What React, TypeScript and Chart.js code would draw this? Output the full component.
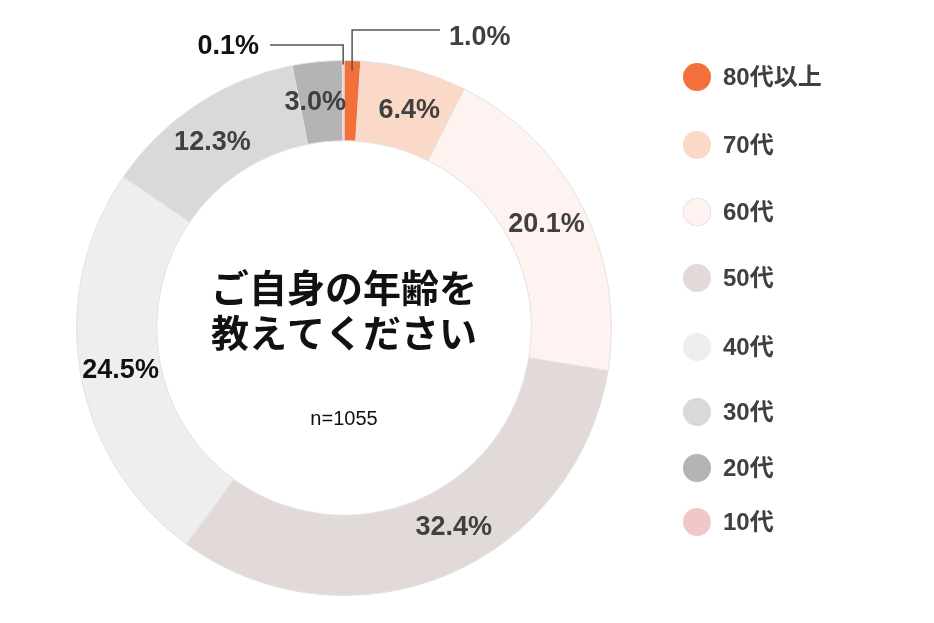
import React, { useEffect, useRef } from "react";
import { Chart, registerables } from "chart.js";

Chart.register(...registerables);

const categories = ["80代以上", "70代", "60代", "50代", "40代", "30代", "20代", "10代"];
const values = [1.0, 6.4, 20.1, 32.4, 24.5, 12.3, 3.0, 0.1];
const percentLabels = ["1.0%", "6.4%", "20.1%", "32.4%", "24.5%", "12.3%", "3.0%", "0.1%"];
const centerTitle = ["ご自身の年齢を", "教えてください"];
const sampleNote = "n=1055";

const sliceColors = ["#F4703A", "#FAD9C8", "#FEF3F1", "#E2DAD8", "#EEEEEE", "#D9D9D9", "#B4B4B4", "#F2C7C8"];
const labelColors = ["#404040", "#404040", "#404040", "#404040", "#111111", "#404040", "#404040", "#111111"];
const labelNudgeDeg = [0, 1.5, 0, -6.5, -1, -2, -1.5, 0];
const legendRowsY = [77, 145, 212, 278, 347, 412, 468, 522];

const FONT = '"Liberation Sans", Arial, "Noto Sans CJK JP", sans-serif';
const CJK = '"Noto Sans CJK JP", "Liberation Sans", sans-serif';

const overlayPlugin = {
  id: "overlay",
  afterDraw(chart: any) {
    const ctx = chart.ctx as CanvasRenderingContext2D;
    const meta = chart.getDatasetMeta(0);
    ctx.save();
    meta.data.forEach((arc: any, i: number) => {
      const p = arc.getProps(["startAngle", "endAngle", "innerRadius", "outerRadius", "x", "y"], true);
      const mid = (p.startAngle + p.endAngle) / 2 + (labelNudgeDeg[i] * Math.PI) / 180;
      ctx.font = `bold 27px ${FONT}`;
      ctx.fillStyle = labelColors[i];
      ctx.textBaseline = "middle";
      if (i === 0) {
        const r = p.outerRadius - 10;
        const x0 = p.x + Math.cos(mid) * r;
        const y0 = p.y + Math.sin(mid) * r;
        ctx.strokeStyle = "#555555";
        ctx.lineWidth = 1.5;
        ctx.beginPath();
        ctx.moveTo(x0, y0);
        ctx.lineTo(x0, 30);
        ctx.lineTo(440, 30);
        ctx.stroke();
        ctx.textAlign = "left";
        ctx.fillText(percentLabels[i], 449, 38);
      } else if (i === values.length - 1) {
        const r = p.outerRadius - 4;
        const x0 = p.x + Math.cos(mid) * r;
        const y0 = p.y + Math.sin(mid) * r;
        ctx.strokeStyle = "#555555";
        ctx.lineWidth = 1.5;
        ctx.beginPath();
        ctx.moveTo(x0, y0);
        ctx.lineTo(x0, 45);
        ctx.lineTo(270, 45);
        ctx.stroke();
        ctx.textAlign = "right";
        ctx.fillText(percentLabels[i], 259, 47);
      } else {
        const r = (p.innerRadius + p.outerRadius) / 2;
        const lx = p.x + Math.cos(mid) * r;
        const ly = p.y + Math.sin(mid) * r;
        ctx.textAlign = "center";
        ctx.fillText(percentLabels[i], lx, ly);
      }
    });

    // center text
    const cx = meta.data[0].x;
    const cy = meta.data[0].y;
    ctx.fillStyle = "#111111";
    ctx.textAlign = "center";
    ctx.textBaseline = "middle";
    ctx.font = `bold 38px ${CJK}`;
    ctx.fillText(centerTitle[0], cx, cy - 40);
    ctx.fillText(centerTitle[1], cx, cy + 5);
    ctx.font = `20px ${FONT}`;
    ctx.fillText(sampleNote, cx, cy + 91);

    // legend
    categories.forEach((name, i) => {
      const y = legendRowsY[i];
      ctx.beginPath();
      ctx.arc(697, y, 14, 0, Math.PI * 2);
      ctx.fillStyle = sliceColors[i];
      ctx.fill();
      if (i === 2) {
        ctx.strokeStyle = "#EADFDC";
        ctx.lineWidth = 1;
        ctx.stroke();
      }
      ctx.fillStyle = "#404040";
      ctx.textAlign = "left";
      ctx.font = `bold 24px ${FONT}`;
      ctx.fillText(name, 723, y + 1);
    });
    ctx.restore();
  },
};

export default function App() {
  const ref = useRef<HTMLCanvasElement>(null);
  useEffect(() => {
    if (!ref.current) return;
    const chart = new Chart(ref.current, {
      type: "doughnut",
      data: {
        labels: categories,
        datasets: [
          {
            data: values,
            backgroundColor: sliceColors,
            borderColor: "#E6E1DF",
            borderWidth: 1,
          },
        ],
      },
      options: {
        responsive: false,
        maintainAspectRatio: false,
        animation: false,
        cutout: "70%",
        layout: { padding: { left: 76, right: 322, top: 60, bottom: 27 } },
        plugins: {
          legend: { display: false },
          tooltip: { enabled: false },
        },
      },
      plugins: [overlayPlugin],
    });
    return () => chart.destroy();
  }, []);
  return (
    <div style={{ position: "absolute", left: 0, top: 0, width: 934, height: 623, background: "#fff" }}>
      <canvas ref={ref} width={934} height={623} style={{ width: 934, height: 623, display: "block" }} />
    </div>
  );
}
